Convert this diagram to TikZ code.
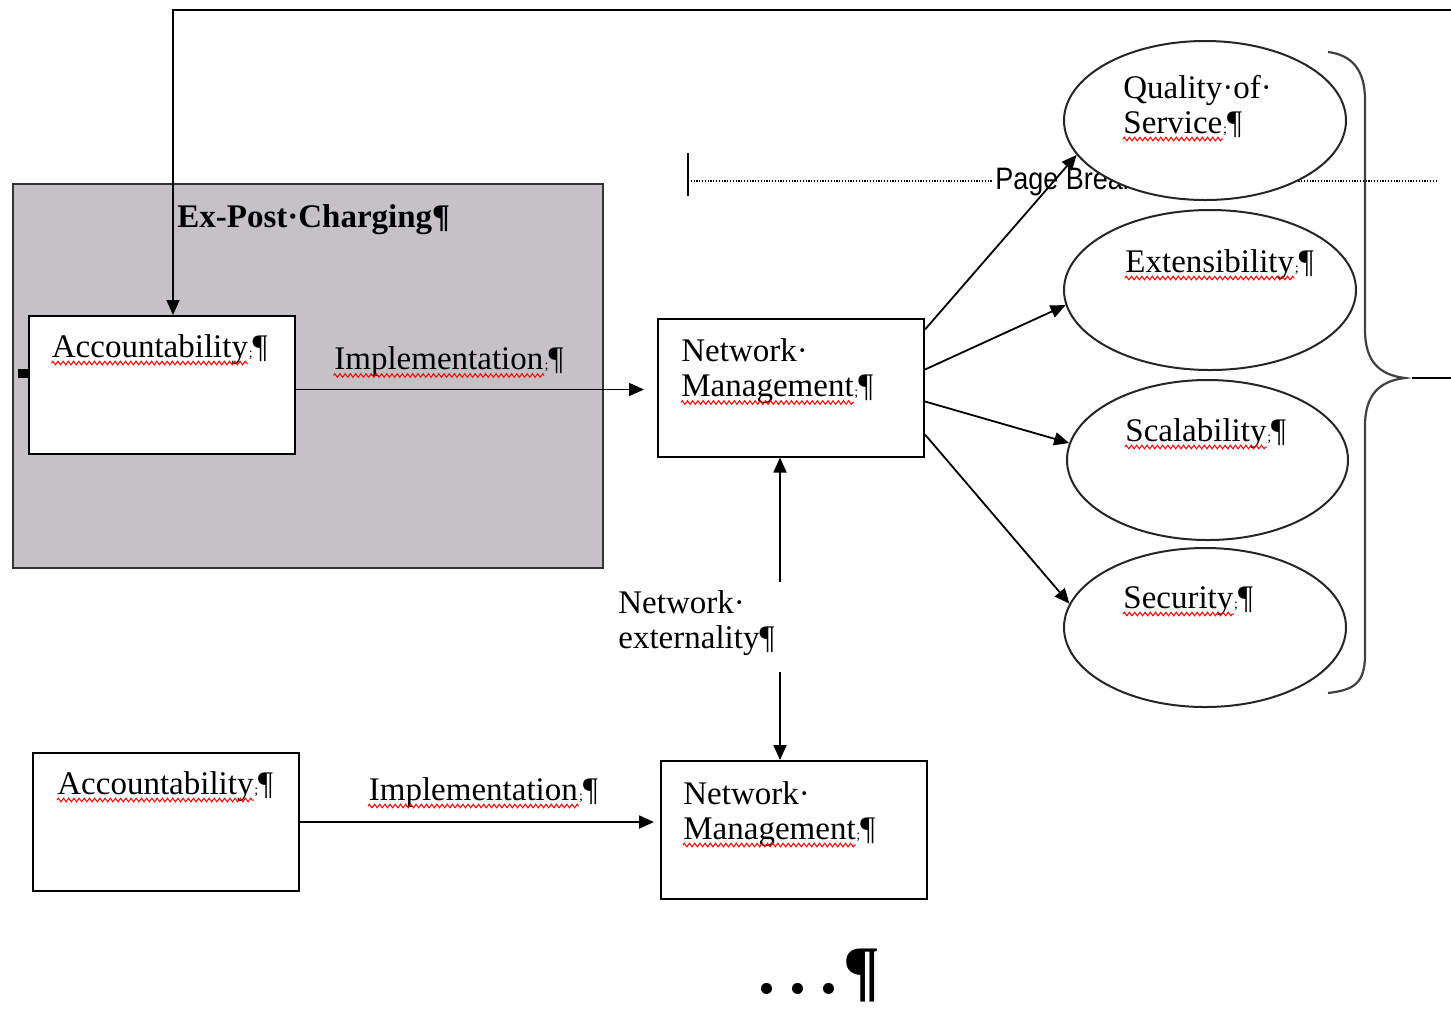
\documentclass[tikz,border=0pt]{standalone}
\usepackage{fontspec}
\setmainfont{Liberation Serif}
\newfontfamily\pbfont{Liberation Sans}
\usetikzlibrary{arrows.meta,shapes.geometric,positioning,calc,decorations.pathmorphing}
\newcommand\mk{{\scriptsize;}}
\definecolor{boxgray}{RGB}{196,194,199}

\tikzset{
  blk/.style={draw, line width=1pt, fill=white, minimum width=133pt, minimum height=69pt, inner sep=0pt},
  oval/.style={ellipse, draw=black!85, line width=1pt, fill=white, inner sep=0pt},
  txt/.style={anchor=base west, inner sep=0pt, font=\fontsize{16.5}{17.5}\selectfont},
  endmk/.style={anchor=base west, inner sep=0pt, font=\fontsize{16.5}{17.5}\selectfont},
  wavy/.style={red, line width=0.5pt, decorate, decoration={zigzag, amplitude=0.9pt, segment length=2.6pt}},
  arr/.style={-{Triangle[length=7.5pt,width=6.5pt]}, line width=0.9pt},
}

\begin{document}
\begin{tikzpicture}[x=0.5pt, y=-0.5pt]
\useasboundingbox (0,0) rectangle (1451,1009);

% grey ex-post block
\draw[fill=boxgray, draw=black!80, line width=1.2pt] (13,184) rectangle (603,568);
\node[txt, font=\bfseries\fontsize{16.5}{17.5}\selectfont] (charge) at (177,227) {Ex-Post·Charging\P};

% boxes
\node[blk] (acc1) at (161.5,385) {};
\node[blk] (nm1) at (791,387.5) {};
\node[blk] (acc2) at (166,822) {};
\node[blk] (nm2) at (794,830) {};
\fill (18,369) rectangle (29,378);

\node[txt] (acc1w) at ($(acc1.north west)+(24,42)$) {Accountability};
\node[endmk] at (acc1w.base east) {\mk\P};
\node[txt] (nm1a) at ($(nm1.north west)+(24,44)$) {Network·};
\node[txt] (nm1w) at ($(nm1a.base west)+(0,35)$) {Management};
\node[endmk] at (nm1w.base east) {\mk\P};
\node[txt] (acc2w) at ($(acc2.north west)+(25,42)$) {Accountability};
\node[endmk] at (acc2w.base east) {\mk\P};
\node[txt] (nm2a) at ($(nm2.north west)+(23,44)$) {Network·};
\node[txt] (nm2w) at ($(nm2a.base west)+(0,35)$) {Management};
\node[endmk] at (nm2w.base east) {\mk\P};

% page break
\coordinate (pbL) at (688,181);
\coordinate (pbR) at (1437,181);
\draw[line width=0.6pt, dash pattern=on 0.6pt off 0.8pt] (pbL) -- (pbR);
\draw[line width=1.2pt] ($(pbL)+(0,-28)$) -- ($(pbL)+(0,15)$);
\node[anchor=base west, fill=white, inner sep=1pt, font=\pbfont\fontsize{15.5}{15.5}\selectfont] (pb) at (993,189) {\scalebox{0.87}[1]{Page Break}};

% ovals
\node[oval, minimum width=141pt, minimum height=79.5pt] (q) at (1205,120.5) {};
\node[oval, minimum width=146pt, minimum height=80pt] (e) at (1210,290) {};
\node[oval, minimum width=140.5pt, minimum height=80pt] (s) at (1207.5,460) {};
\node[oval, minimum width=141pt, minimum height=79.5pt] (sec) at (1205,627.5) {};

\node[txt] (qa) at ($(q)+(-82,-22.5)$) {Quality·of·};
\node[txt] (qw) at ($(qa.base west)+(0,35)$) {Service};
\node[endmk] at (qw.base east) {\mk\P};
\node[txt] (ew) at ($(e)+(-85,-18)$) {Extensibility};
\node[endmk] at (ew.base east) {\mk\P};
\node[txt] (sw) at ($(s)+(-82.5,-19)$) {Scalability};
\node[endmk] at (sw.base east) {\mk\P};
\node[txt] (secw) at ($(sec)+(-82,-19.5)$) {Security};
\node[endmk] at (secw.base east) {\mk\P};

% brace
\coordinate (brtip) at (1405,378);
\coordinate (outR) at (1451,378);
\draw[black!75, line width=1.1pt] (1328,52) .. controls (1352,55) and (1365,70) .. (1365,100) -- (1365,330)
  .. controls (1365,362) and (1380,375) .. (brtip) .. controls (1380,381) and (1365,394) .. (1365,426)
  -- (1365,655) .. controls (1365,685) and (1352,690) .. (1328,693);
\draw[line width=1pt] ($(brtip)+(7,0)$) -- (outR);

% connectors
\coordinate (topR) at (1451,10);
\draw[arr] (topR) -| ($(acc1.north)+(11.5,0)$);
\draw[arr, shorten >=6.5pt] ($(acc1.east |- nm1.west)+(0,2)$) -- node[txt, at start, xshift=19pt, yshift=10pt] (imp1w) {Implementation} ($(nm1.west)+(0,2)$);
\node[endmk] at (imp1w.base east) {\mk\P};
\draw[arr, shorten >=3pt] (acc2.east) -- node[txt, at start, xshift=34pt, yshift=11pt] (imp2w) {Implementation} (acc2.east -| nm2.west);
\node[endmk] at (imp2w.base east) {\mk\P};

\draw[arr] ($(nm1.north east)+(0,12)$) -- (q.195);
\draw[arr] ($(nm1.north east)+(0,52)$) -- (e.186);
\draw[arr] ($(nm1.north east)+(0,84)$) -- (s.173.6);
\draw[arr] ($(nm1.north east)+(0,117)$) -- (sec.170);

\node[txt] (ext) at (618,613) {Network·};
\node[txt] (ext2) at ($(ext.base west)+(0,35)$) {externality\P};
\coordinate (ea) at (780,582);
\coordinate (eb) at (780,672);
\draw[arr] (ea) -- (ea |- nm1.south);
\draw[arr] (eb) -- (eb |- nm2.north);

% spelling marks
\foreach \w in {acc1w,nm1w,acc2w,nm2w,imp1w,imp2w,qw,ew,sw,secw}
  \draw[wavy] ($(\w.base west)+(0,6)$) -- ($(\w.base east)+(0,6)$);

\node[anchor=base west, inner sep=0pt, font=\bfseries\fontsize{34}{34}\selectfont] (dots) at (758,993) {.\kern7pt.\kern7pt.\kern3pt\P};
\end{tikzpicture}
\end{document}
